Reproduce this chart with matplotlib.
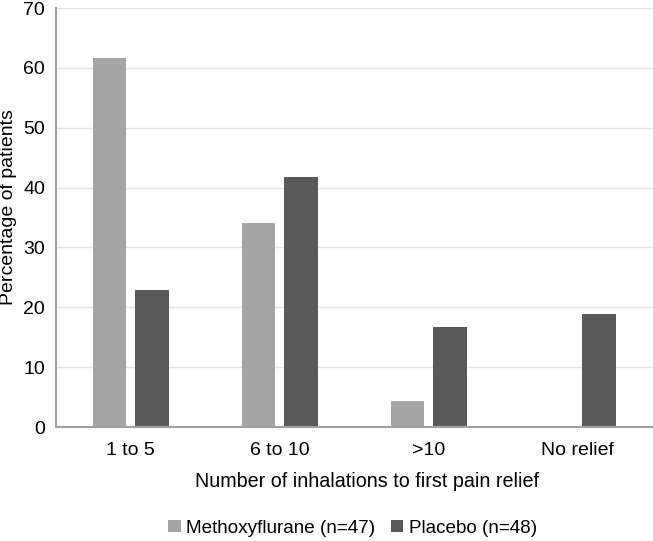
import matplotlib
matplotlib.use("Agg")
import matplotlib.pyplot as plt
import numpy as np

categories = ["1 to 5", "6 to 10", ">10", "No relief"]
methoxyflurane = [61.7, 34.0, 4.3, 0.0]
placebo = [22.9, 41.7, 16.7, 18.8]
series_names = ["Methoxyflurane (n=47)", "Placebo (n=48)"]
yticks = [0, 10, 20, 30, 40, 50, 60, 70]

plt.rcParams['font.family'] = ['Liberation Sans', 'DejaVu Sans']
FS = 14

fig = plt.figure(figsize=(6.53, 5.41), dpi=100)
ax = fig.add_axes([0.0858, 0.2107, 0.9127, 0.7745])

x = np.arange(len(categories))
w = 0.222
off = 0.144
ax.bar(x - off, methoxyflurane, w, color="#a5a5a5", label=series_names[0], zorder=3)
ax.bar(x + off, placebo, w, color="#595959", label=series_names[1], zorder=3)

ax.set_xlim(-0.5, 3.5)
ax.set_ylim(0, 70)
ax.set_yticks(yticks)
ax.set_xticks(x)
ax.set_xticklabels(categories, fontsize=FS)
ax.tick_params(axis='y', labelsize=FS, length=0, pad=8)
ax.tick_params(axis='x', length=0, pad=11)
ax.grid(axis='y', color="#e4e4e4", linewidth=1.0, zorder=0)
for s in ['top', 'right']:
    ax.spines[s].set_visible(False)
for s in ['left', 'bottom']:
    ax.spines[s].set_color("#a0a0a0")
    ax.spines[s].set_linewidth(1.5)
    ax.spines[s].set_zorder(4)

ax.set_xlabel("Number of inhalations to first pain relief", fontsize=14.2)
ax.set_ylabel("Percentage of patients", fontsize=FS)
ax.xaxis.set_label_coords(0.522, -0.108)
ax.yaxis.set_label_coords(-0.066, 0.525)

fig.legend(loc='center', bbox_to_anchor=(0.54, 0.024), ncol=2, frameon=False,
           fontsize=13.6, handlelength=0.65, handleheight=0.65, handletextpad=0.3,
           columnspacing=0.8, borderpad=0)

fig.savefig("out.png", dpi=100)
